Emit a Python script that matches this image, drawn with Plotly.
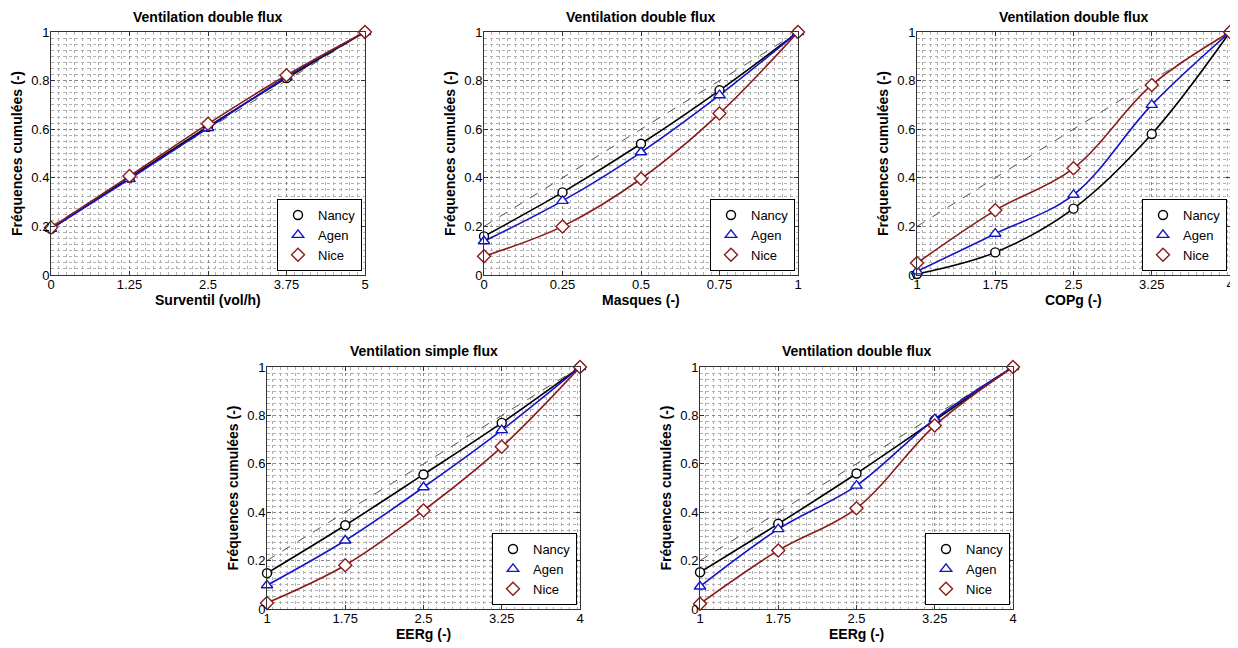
import plotly.graph_objects as go

# ---------------- data ----------------
titles = ["Ventilation double flux", "Ventilation double flux", "Ventilation double flux",
          "Ventilation simple flux", "Ventilation double flux"]
xlabels = ["Surventil (vol/h)", "Masques (-)", "COPg (-)", "EERg (-)", "EERg (-)"]
ylabel = "Fréquences cumulées (-)"
series_names = ["Nancy", "Agen", "Nice"]

x1 = [0, 1.25, 2.5, 3.75, 5]
x2 = [0, 0.25, 0.5, 0.75, 1]
x3 = [1, 1.75, 2.5, 3.25, 4]
x4 = [1, 1.75, 2.5, 3.25, 4]
x5 = [1, 1.75, 2.5, 3.25, 4]

nancy1 = [0.19, 0.40, 0.61, 0.81, 1.0]
agen1 = [0.19, 0.395, 0.605, 0.815, 1.0]
nice1 = [0.195, 0.407, 0.622, 0.822, 1.0]

nancy2 = [0.159, 0.340, 0.540, 0.760, 1.0]
agen2 = [0.139, 0.305, 0.505, 0.740, 1.0]
nice2 = [0.077, 0.200, 0.396, 0.665, 1.0]

nancy3 = [0.004, 0.093, 0.273, 0.580, 1.0]
agen3 = [0.015, 0.170, 0.330, 0.700, 1.0]
nice3 = [0.049, 0.266, 0.439, 0.782, 1.0]

nancy4 = [0.148, 0.346, 0.556, 0.769, 1.0]
agen4 = [0.098, 0.283, 0.503, 0.739, 1.0]
nice4 = [0.025, 0.181, 0.407, 0.670, 1.0]

nancy5 = [0.152, 0.352, 0.560, 0.780, 1.0]
agen5 = [0.093, 0.330, 0.510, 0.785, 1.0]
nice5 = [0.022, 0.242, 0.416, 0.758, 1.0]

ref_y = [0.2, 1.0]  # dashed reference line (from x min to x max)

xs = [x1, x2, x3, x4, x5]
ys = [[nancy1, agen1, nice1], [nancy2, agen2, nice2], [nancy3, agen3, nice3],
      [nancy4, agen4, nice4], [nancy5, agen5, nice5]]

# ---------------- style ----------------
OFF = 8  # page body margin
W, H = 1238 - OFF, 648 - OFF
colors = ["#000000", "#1414C8", "#8B1A1A"]
symbols = ["circle", "triangle-up", "diamond"]
msizes = [9, 10, 10]
FONT = "Liberation Sans, Arial, sans-serif"

# plot boxes in screen pixels: (left, right, top, bottom)
boxes = [(51, 365, 32, 275), (484, 798, 32, 275), (917, 1230, 32, 275),
         (267, 580, 367, 609), (700, 1013, 367, 609)]
xdticks = [1.25, 0.25, 0.75, 0.75, 0.75]


def px(v):
    return (v - OFF) / W


def py(v):
    return 1 - (v - OFF) / H


fig = go.Figure()
layout = dict(width=W, height=H, margin=dict(l=0, r=0, t=0, b=0, autoexpand=False),
              paper_bgcolor="white", plot_bgcolor="white",
              font=dict(family=FONT, size=13, color="black"),
              annotations=[])

for i in range(5):
    n = i + 1
    xa = "x" if n == 1 else f"x{n}"
    ya = "y" if n == 1 else f"y{n}"
    lg = "legend" if n == 1 else f"legend{n}"
    l, r, t, b = boxes[i]
    xv = xs[i]
    # dashed reference line
    fig.add_trace(go.Scatter(x=[xv[0], xv[-1]], y=ref_y, mode="lines",
                             line=dict(color="#555555", width=1, dash="dash"),
                             xaxis=xa, yaxis=ya, showlegend=False, hoverinfo="skip"))
    # smooth curves
    for k in range(3):
        fig.add_trace(go.Scatter(x=xv, y=ys[i][k], mode="lines",
                                 line=dict(color=colors[k], width=1.6, shape="spline", smoothing=1.0),
                                 xaxis=xa, yaxis=ya, showlegend=False, hoverinfo="skip",
                                 cliponaxis=False))
    # markers
    for k in range(3):
        fig.add_trace(go.Scatter(x=xv, y=ys[i][k], mode="markers", name=series_names[k],
                                 marker=dict(symbol=symbols[k], size=msizes[k], color="white",
                                             line=dict(color=colors[k], width=1.4)),
                                 xaxis=xa, yaxis=ya, legend=lg, cliponaxis=False))
    xkey = "xaxis" if n == 1 else f"xaxis{n}"
    ykey = "yaxis" if n == 1 else f"yaxis{n}"
    layout[xkey] = dict(domain=[px(l), px(r)], anchor=ya, range=[xv[0], xv[-1]],
                        tick0=xv[0], dtick=xdticks[i], ticks="inside", ticklen=4,
                        tickcolor="#333", showline=True, linecolor="#333", linewidth=1,
                        mirror="ticks", zeroline=False, automargin=False,
                        ticklabeloverflow="allow", ticklabelstandoff=-3,
                        showgrid=True, gridcolor="#888", griddash="dot", gridwidth=1,
                        minor=dict(dtick=xdticks[i] / 10, showgrid=True, gridcolor="#b0b0b0",
                                   griddash="dot", gridwidth=1),
                        tickfont=dict(size=13))
    layout[ykey] = dict(domain=[py(b), py(t)], anchor=xa, range=[0, 1],
                        tick0=0, dtick=0.2, ticks="inside", ticklen=4,
                        tickcolor="#333", showline=True, linecolor="#333", linewidth=1,
                        mirror="ticks", zeroline=False, automargin=False,
                        ticklabeloverflow="allow", ticklabelstandoff=-2,
                        showgrid=True, gridcolor="#888", griddash="dot", gridwidth=1,
                        minor=dict(dtick=0.025, showgrid=True, gridcolor="#b0b0b0",
                                   griddash="dot", gridwidth=1),
                        tickfont=dict(size=13),
                        title=dict(text=f"<b>{ylabel}</b>", font=dict(size=14), standoff=5))
    layout[lg] = dict(x=px(r - 3), y=py(b - 4), xanchor="right", yanchor="bottom",
                      bgcolor="white", bordercolor="black", borderwidth=1,
                      font=dict(size=13), itemwidth=30, tracegroupgap=0)
    title_y = 17 if t < 100 else 351
    layout["annotations"].append(dict(text=f"<b>{titles[i]}</b>", x=px((l + r) / 2),
                                      y=py(title_y), xref="paper", yref="paper",
                                      xanchor="center", yanchor="middle", showarrow=False,
                                      font=dict(size=14)))
    layout["annotations"].append(dict(text=f"<b>{xlabels[i]}</b>", x=px((l + r) / 2),
                                      y=py(b + 25), xref="paper", yref="paper",
                                      xanchor="center", yanchor="middle", showarrow=False,
                                      font=dict(size=14)))

fig.update_layout(**layout)
fig.write_html("out.html")
